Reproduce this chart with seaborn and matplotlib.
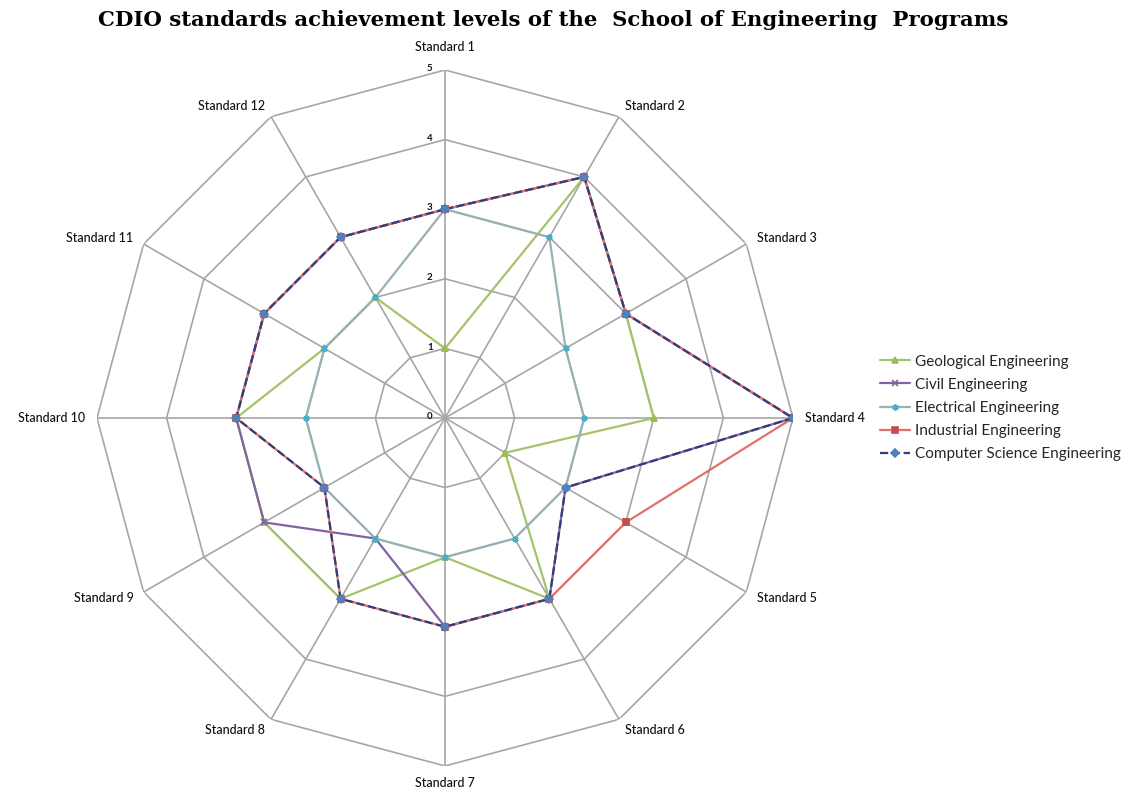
import numpy as np
import pandas as pd
import matplotlib
matplotlib.use('Agg')
import matplotlib.pyplot as plt
import seaborn as sns

standards = ['Standard %d' % i for i in range(1, 13)]
geological = [1, 4, 3, 3, 1, 3, 2, 3, 3, 3, 2, 2]
civil = [3, 4, 3, 5, 2, 3, 3, 2, 3, 3, 3, 3]
electrical = [3, 3, 2, 2, 2, 2, 2, 2, 2, 2, 2, 2]
industrial = [3, 4, 3, 5, 3, 3, 3, 3, 2, 3, 3, 3]
computer = [3, 4, 3, 5, 2, 3, 3, 3, 2, 3, 3, 3]
levels = [0, 1, 2, 3, 4, 5]

series = [
    ('Geological Engineering', geological, '#A5C36A', '^', '-', '#9BBB59'),
    ('Civil Engineering', civil, '#8064A2', 'x', '-', '#8064A2'),
    ('Electrical Engineering', electrical, '#98b0b6', (6, 2, 0), '-', '#4BACC6'),
    ('Industrial Engineering', industrial, '#E0706B', 's', '-', '#C0504D'),
    ('Computer Science Engineering', computer, '#2E3F7A', 'D', '--', '#4F81BD'),
]

sns.set_style('white')
plt.rcParams['font.family'] = ['Lato', 'DejaVu Sans']

n = len(standards)
theta = np.arange(n) * 2 * np.pi / n
theta_closed = np.append(theta, theta[0] + 2 * np.pi)

fig = plt.figure(figsize=(11.32, 8), dpi=100)
ax = fig.add_axes([0.0857, 0.0425, 0.6148, 0.87], projection='polar')
ax.set_theta_zero_location('N')
ax.set_theta_direction(-1)
ax.grid(False)
ax.set_xticks([])
ax.set_yticks([])
ax.spines['polar'].set_visible(False)

# polygon grid + spokes
for lv in levels[1:]:
    ax.plot(theta_closed, [lv] * (n + 1), color='#A6A6A6', lw=1.2, zorder=1)
for t in theta:
    ax.plot([t, t], [0, 5], color='#A6A6A6', lw=1.2, zorder=1)

for name, vals, lc, mk, ls, mc in series:
    df = pd.DataFrame({'angle': theta_closed, 'value': vals + [vals[0]]})
    ms = 5.5 if mk != 'D' else 4.5
    sns.lineplot(data=df, x='angle', y='value', ax=ax, sort=False, color=lc,
                 linestyle=ls, lw=1.6, marker=mk, markersize=ms,
                 markerfacecolor=mc, markeredgecolor=mc, markeredgewidth=1.2,
                 label=name, zorder=3, legend=False)

ax.set_ylim(0, 5)
ax.set_xlabel('')
ax.set_ylabel('')

for lv in levels:
    ax.annotate(str(lv), xy=(0, lv), xytext=(-11, 1), textcoords='offset points',
                ha='center', va='center', fontsize=7, fontweight='bold', color='#111111')

for t, lab in zip(theta, standards):
    deg = np.degrees(t) % 360
    if deg < 1 or abs(deg - 180) < 1:
        ha = 'center'
    elif deg < 180:
        ha = 'left'
    else:
        ha = 'right'
    r = 5.33 if ha == 'center' else 5.17
    if abs(deg - 180) < 1:
        r = 5.25
    ax.text(t, r, lab, ha=ha, va='center', fontsize=9, fontweight='medium', color='#111111')

handles, labels = ax.get_legend_handles_labels()
for h in handles:
    h.set_markersize(4.5)
fig.legend(handles, labels, loc='center left', bbox_to_anchor=(0.765, 0.49),
           frameon=False, fontsize=11, labelspacing=0.6, handlelength=2.0,
           handletextpad=0.3)

fig.text(0.489, 0.975, 'CDIO standards achievement levels of the  School of Engineering  Programs',
         ha='center', va='center', fontsize=15.3, fontweight='bold', family='DejaVu Serif',
         color='black')

plt.savefig('out.png', dpi=100)
